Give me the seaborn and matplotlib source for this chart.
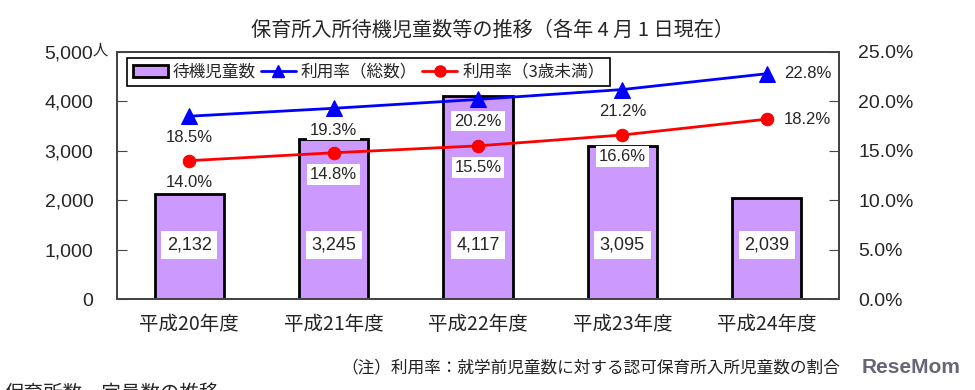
import matplotlib
matplotlib.use('Agg')
import matplotlib.pyplot as plt
import matplotlib.patches as mpatches
from matplotlib.lines import Line2D
from matplotlib.ticker import FuncFormatter, FixedLocator
import seaborn as sns
import pandas as pd

# data
years = ['平成20年度', '平成21年度', '平成22年度', '平成23年度', '平成24年度']
waiting = [2132, 3245, 4117, 3095, 2039]
rate_total = [18.5, 19.3, 20.2, 21.2, 22.8]
rate_under3 = [14.0, 14.8, 15.5, 16.6, 18.2]

sns.set_style('white')
plt.rcParams['font.family'] = ['Liberation Sans', 'Noto Sans CJK JP', 'DejaVu Sans']

df = pd.DataFrame({'year': years, 'waiting': waiting,
                   'total': rate_total, 'under3': rate_under3, 'pos': range(len(years))})

fig = plt.figure(figsize=(9.75, 3.9), dpi=100)
ax = fig.add_axes([0.12, 0.2333, 0.7405, 0.6334])

sns.barplot(data=df, x='year', y='waiting', color='#cc99ff', width=0.48,
            edgecolor='black', linewidth=2, saturation=1, ax=ax)
ax.set_xlim(-0.5, len(years) - 0.5)
ax.set_ylim(0, 5000)
ax.set_yticks(range(0, 5001, 1000))
ax.yaxis.set_major_formatter(FuncFormatter(lambda v, p: f'{int(v):,}'))
ax.set_xlabel('')
ax.set_ylabel('')
ax.tick_params(axis='y', direction='in', length=7, labelsize=14, pad=17, color='#444444')
ax.tick_params(axis='x', which='major', length=0, labelsize=14, pad=11)
for lbl in ax.get_xticklabels():
    lbl.set_family(['Noto Sans CJK JP'])
ax.xaxis.set_minor_locator(FixedLocator([i + 0.5 for i in range(len(years) - 1)]))
ax.tick_params(axis='x', which='minor', direction='in', length=7, color='#444444')
for s in ax.spines.values():
    s.set_color('#444444')
    s.set_linewidth(1.3)

for i, v in enumerate(waiting):
    ax.text(i, 1100, f'{v:,}', ha='center', va='center', fontsize=13,
            bbox=dict(facecolor='white', edgecolor='none', pad=4))

fig.text(93 / 975, 1 - 50 / 390, '人', fontsize=11, ha='left', va='center',
         family=['Noto Sans CJK JP'])

ax2 = ax.twinx()
sns.lineplot(data=df, x='pos', y='total', color='#0000ff', marker='^', markersize=11,
             markeredgecolor='#0000ff', linewidth=2, ax=ax2)
sns.lineplot(data=df, x='pos', y='under3', color='#ff0000', marker='o', markersize=9,
             markeredgecolor='#ff0000', linewidth=2, ax=ax2)
ax2.set_ylim(0, 25)
ax2.set_xlim(-0.5, len(years) - 0.5)
ax2.set_yticks(range(0, 26, 5))
ax2.yaxis.set_major_formatter(FuncFormatter(lambda v, p: f'{v:.1f}%'))
ax2.set_ylabel('')
ax2.set_xlabel('')
ax2.tick_params(axis='y', direction='in', length=7, labelsize=14, pad=14, color='#444444')
for s in ax2.spines.values():
    s.set_color('#444444')
    s.set_linewidth(1.3)

n = len(years)
for i in range(n):
    for series in (rate_total, rate_under3):
        v = series[i]
        if i == n - 1:
            ax2.text(i + 0.12, v, f'{v:.1f}%', ha='left', va='center', fontsize=12)
        else:
            ax2.text(i, v - 2.2, f'{v:.1f}%', ha='center', va='center', fontsize=12,
                     bbox=dict(facecolor='white', edgecolor='none', pad=2))

handles = [
    mpatches.Patch(facecolor='#cc99ff', edgecolor='black', linewidth=2),
    Line2D([], [], color='#0000ff', marker='^', markersize=9, linewidth=2),
    Line2D([], [], color='#ff0000', marker='o', markersize=8, linewidth=2),
]
labels = ['待機児童数', '利用率（総数）', '利用率（3歳未満）']
leg = ax2.legend(handles, labels, ncol=3, loc='upper left', bbox_to_anchor=(0.009, 0.99),
                 frameon=True, fancybox=False, borderpad=0.35, borderaxespad=0.2,
                 handlelength=2.1, columnspacing=0.3, handletextpad=0.3,
                 prop={'family': ['Noto Sans CJK JP'], 'size': 12})
leg.get_frame().set_edgecolor('black')
leg.get_frame().set_linewidth(1.2)
leg.get_frame().set_alpha(1)

fig.text(0.505, 0.923, '保育所入所待機児童数等の推移（各年 4 月 1 日現在）', ha='center', va='center',
         fontsize=14.5, family=['Noto Sans CJK JP'])
fig.text(0.862, 0.057, '（注）利用率：就学前児童数に対する認可保育所入所児童数の割合',
         ha='right', va='center', fontsize=12, family=['Noto Sans CJK JP'], color='#222222')
fig.text(0.985, 0.057, 'ReseMom', ha='right', va='center', fontsize=15, fontweight='bold',
         color='#666677')
# heading of the next chart, cut off at the bottom edge as in the source image
fig.text(0.005, 1 - 383 / 390, '保育所数・定員数の推移', ha='left', va='top', fontsize=14,
         family=['Noto Sans CJK JP'])

fig.savefig('out.png', dpi=100)
